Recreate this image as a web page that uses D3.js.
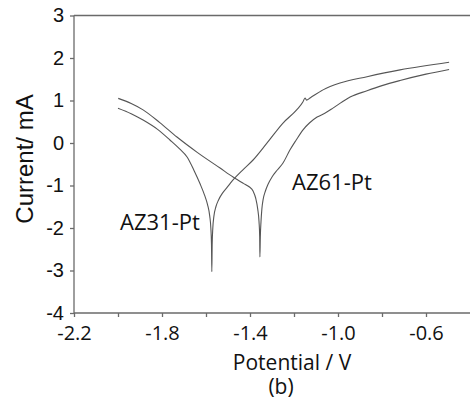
<!DOCTYPE html>
<html>
<head>
<meta charset="utf-8">
<script src="https://cdn.jsdelivr.net/npm/d3@7"></script>
<style>
  body { margin: 0; background: #fff; }
  svg { display: block; }
</style>
</head>
<body>
<div id="chart"></div>
<script>
// Polarization curves, potential (V) vs current (mA)
const az31Potential = [-2.0, -1.94, -1.886, -1.82, -1.764, -1.72, -1.686, -1.655, -1.627, -1.607, -1.593, -1.583, -1.578, -1.575,
  -1.5735, -1.572, -1.569, -1.564, -1.555, -1.543, -1.525, -1.505, -1.477, -1.43,
  -1.386, -1.324, -1.25, -1.188, -1.159, -1.15, -1.143, -1.127, -1.068, -0.991, -0.868, -0.718, -0.495];
const az31Current = [0.82, 0.69, 0.54, 0.32, 0.07, -0.14, -0.33, -0.64, -0.96, -1.22, -1.45, -1.72, -2.0, -2.4,
  -3.03, -2.4, -2.0, -1.72, -1.5, -1.34, -1.18, -1.05, -0.87, -0.62,
  -0.40, -0.01, 0.47, 0.78, 0.97, 1.06, 1.01, 1.06, 1.25, 1.41, 1.56, 1.72, 1.90];

const az61Potential = [-1.999, -1.94, -1.886, -1.81, -1.732, -1.64, -1.536, -1.477, -1.43, -1.404, -1.386, -1.374, -1.365, -1.359, -1.356,
  -1.355, -1.353, -1.35, -1.346, -1.34, -1.33, -1.318, -1.3,
  -1.275, -1.25, -1.218, -1.19, -1.159, -1.13, -1.095, -1.06, -1.023, -0.98, -0.945, -0.868, -0.8, -0.718, -0.6, -0.495];
const az61Current = [1.05, 0.93, 0.78, 0.48, 0.14, -0.22, -0.59, -0.80, -0.95, -1.03, -1.13, -1.30, -1.55, -1.85, -2.2,
  -2.68, -2.2, -1.85, -1.55, -1.32, -1.13, -0.97, -0.80,
  -0.63, -0.47, -0.16, 0.07, 0.31, 0.47, 0.61, 0.70, 0.82, 0.97, 1.08, 1.23, 1.35, 1.47, 1.62, 1.73];

const xTicks = [-2.2, -2.0, -1.8, -1.6, -1.4, -1.2, -1.0, -0.8, -0.6];
const xTickLabels = [-2.2, -1.8, -1.4, -1.0, -0.6];
const yTicks = [3, 2, 1, 0, -1, -2, -3, -4];

const WIDTH = 470, HEIGHT = 404;
const PLOT = {left: 74, top: 15.5, right: 470, bottom: 313};
const AXIS_COLOR = '#6a6a6a';
const LINE_COLOR = '#555555';

const svg = d3.select('#chart').append('svg')
  .attr('width', WIDTH)
  .attr('height', HEIGHT);

const x = d3.scaleLinear().domain([-2.2, -0.4]).range([PLOT.left, PLOT.right]);
const y = d3.scaleLinear().domain([-4, 3]).range([PLOT.bottom, PLOT.top]);

// top frame line
svg.append('line')
  .attr('x1', PLOT.left).attr('x2', PLOT.right)
  .attr('y1', PLOT.top).attr('y2', PLOT.top)
  .attr('stroke', AXIS_COLOR)
  .attr('stroke-width', 1.3);

// x axis
const xAxis = d3.axisBottom(x).tickValues(xTicks).tickSize(4).tickPadding(9)
  .tickFormat(d => xTickLabels.some(v => Math.abs(v - d) < 1e-9) ? d.toFixed(1) : '');
const gx = svg.append('g')
  .attr('transform', 'translate(0,' + PLOT.bottom + ')')
  .call(xAxis);
gx.select('.domain').attr('d', 'M' + PLOT.left + ',0H' + PLOT.right);
gx.selectAll('.domain, .tick line').attr('stroke', AXIS_COLOR).attr('stroke-width', 1.3);
gx.selectAll('.tick text')
  .style('font-family', '"Open Sans", sans-serif')
  .style('font-size', '20px')
  .attr('fill', '#111');

// y axis
const yAxis = d3.axisLeft(y).tickValues(yTicks).tickSize(4).tickPadding(6)
  .tickFormat(d => String(d));
const gy = svg.append('g')
  .attr('transform', 'translate(' + PLOT.left + ',0)')
  .call(yAxis);
gy.select('.domain').attr('d', 'M0,' + PLOT.top + 'V' + PLOT.bottom);
gy.selectAll('.domain, .tick line').attr('stroke', AXIS_COLOR).attr('stroke-width', 1.3);
gy.selectAll('.tick text')
  .style('font-family', '"Liberation Sans", Arial, sans-serif')
  .style('font-size', '20px')
  .attr('fill', '#111');

// axis titles
svg.append('text')
  .attr('x', 292)
  .attr('y', 370)
  .attr('text-anchor', 'middle')
  .style('font-family', '"Open Sans", sans-serif')
  .style('font-size', '21px')
  .attr('fill', '#111')
  .text('Potential / V');

svg.append('text')
  .attr('x', 281)
  .attr('y', 394)
  .attr('text-anchor', 'middle')
  .style('font-family', '"Open Sans", sans-serif')
  .style('font-size', '21px')
  .attr('fill', '#111')
  .text('(b)');

svg.append('text')
  .attr('transform', 'translate(33,159) rotate(-90)')
  .attr('text-anchor', 'middle')
  .style('font-family', '"Liberation Sans", Arial, sans-serif')
  .style('font-size', '24px')
  .attr('fill', '#111')
  .text('Current/ mA');

// curves
const line = d3.line()
  .x(d => x(d[0]))
  .y(d => y(d[1]))
  .curve(d3.curveMonotoneX);

const series = [
  {name: 'AZ31-Pt', pts: d3.zip(az31Potential, az31Current)},
  {name: 'AZ61-Pt', pts: d3.zip(az61Potential, az61Current)}
];

svg.selectAll('.curve')
  .data(series)
  .enter().append('path')
  .attr('class', 'curve')
  .attr('d', d => line(d.pts))
  .attr('fill', 'none')
  .attr('stroke', LINE_COLOR)
  .attr('stroke-width', 1.1)
  .attr('stroke-linejoin', 'round');

// curve labels
svg.append('text')
  .attr('x', 120).attr('y', 230)
  .style('font-family', '"Open Sans", sans-serif')
  .style('font-size', '22px')
  .attr('fill', '#111')
  .text('AZ31-Pt');

svg.append('text')
  .attr('x', 292).attr('y', 190)
  .style('font-family', '"Open Sans", sans-serif')
  .style('font-size', '22px')
  .attr('fill', '#111')
  .text('AZ61-Pt');
</script>
</body>
</html>
